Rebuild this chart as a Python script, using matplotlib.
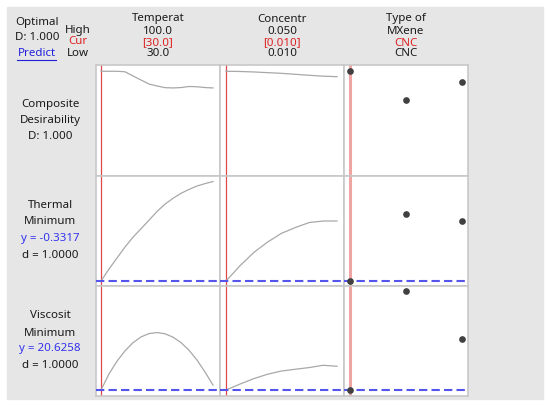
import numpy as np
import matplotlib.pyplot as plt
from matplotlib.patches import Rectangle
from matplotlib.lines import Line2D

plt.rcParams['font.family'] = ['Noto Sans', 'DejaVu Sans']

# Factor settings
temp = [30, 35, 40, 45, 50, 55, 60, 65, 70, 75, 80, 85, 90, 95, 100]
conc = [0.010, 0.015, 0.020, 0.025, 0.030, 0.035, 0.040, 0.045, 0.050]
mxene_types = ['CNC', 'Type 2', 'Type 3']

# Composite desirability
d_temp = [1.0, 1.0, 1.0, 0.995, 0.952, 0.911, 0.870, 0.850, 0.833, 0.830, 0.834, 0.845, 0.842, 0.834, 0.830]
d_conc = [1.0, 0.998, 0.993, 0.986, 0.979, 0.969, 0.959, 0.950, 0.945]
d_type = [1.0, 0.704, 0.888]

# Thermal (minimize)
th_temp = [-0.3317, -0.092, 0.128, 0.348, 0.544, 0.714, 0.884, 1.058,
           1.206, 1.322, 1.422, 1.500, 1.568, 1.616, 1.658]
th_conc = [-0.3317, -0.03, 0.238, 0.448, 0.622, 0.738, 0.838, 0.868, 0.868]
th_type = [-0.3317, 1.008, 0.868]

# Viscosity (minimize)
vi_temp = [20.6258, 28.78, 35.18, 40.43, 44.53, 47.43, 49.13, 49.63,
           49.03, 47.33, 44.58, 40.70, 35.78, 29.75, 23.13]
vi_conc = [20.6258, 23.63, 26.38, 28.63, 30.23, 31.13, 31.98, 33.13, 32.63]
vi_type = [20.6258, 70.63, 46.63]

W, H = 550, 408
fig = plt.figure(figsize=(5.5, 4.08), dpi=100)

def rect(x0, y0, x1, y1):
    return [x0 / W, 1 - y1 / H, (x1 - x0) / W, (y1 - y0) / H]

def txt(x, y, s, color='#1a1a1a', **kw):
    fig.text(x / W, 1 - y / H, s, ha='center', va='center', fontsize=8.3, color=color, **kw)

# gray panel background
fig.patches.append(Rectangle((7 / W, 1 - 399 / H), 536 / W, 392 / H,
                             transform=fig.transFigure, color='#e6e6e6', zorder=-10))

cols = [96, 220, 344, 468]
rows = [65, 176, 286, 396]
xlims = [(26.875, 104.375), (0.00784, 0.05252), (-0.107, 2.107)]
ylims = [(-0.068, 1.064), (-0.4317, 1.7683), (17.63, 73.13)]

red = '#e04848'
blue = '#5555ee'
curve = '#a8a8a8'
dot = '#404040'

series = [
    [(temp, d_temp), (conc, d_conc), d_type],
    [(temp, th_temp), (conc, th_conc), th_type],
    [(temp, vi_temp), (conc, vi_conc), vi_type],
]
optimum = [30, 0.010, 0]
targets = [None, -0.3317, 20.6258]

for r in range(3):
    for c in range(3):
        ax = fig.add_axes(rect(cols[c], rows[r], cols[c + 1], rows[r + 1]))
        ax.set_zorder(1)
        ax.set_xlim(*xlims[c])
        ax.set_ylim(*ylims[r])
        ax.set_xticks([])
        ax.set_yticks([])
        for sp in ax.spines.values():
            sp.set_color('#c8c8c8')
            sp.set_linewidth(1.2)
        if targets[r] is not None:
            ax.axhline(targets[r], color=blue, lw=1.5, dashes=(4, 2), zorder=3)
        if c < 2:
            xs, ys = series[r][c]
            ax.plot(xs, ys, color=curve, lw=0.9, zorder=2)
            ax.axvline(optimum[c], color=red, lw=0.9, zorder=1)
        else:
            ax.axvline(optimum[c], color='#f0a4a4', lw=2.2, zorder=1)
            ax.plot(range(len(mxene_types)), series[r][c], 'o', color=dot, ms=3.8,
                    zorder=4, clip_on=False)

# header text
txt(37, 22, 'Optimal')
txt(37, 37, 'D: 1.000')
txt(37, 53, 'Predict', color='#2020dd')
fig.lines.append(Line2D([17 / W, 56 / W], [1 - 60 / H, 1 - 60 / H],
                        transform=fig.transFigure, color='#2020dd', lw=0.8))
txt(78, 30, 'High')
txt(78, 42, 'Cur', color='#dd2222')
txt(78, 54, 'Low')

headers = [('Temperat', '100.0', '[30.0]', '30.0'),
           ('Concentr', '0.050', '[0.010]', '0.010'),
           ('Type of', 'MXene', 'CNC', 'CNC')]
for c, (name, hi, cur, lo) in enumerate(headers):
    cx = (cols[c] + cols[c + 1]) / 2
    txt(cx, 19, name)
    txt(cx, 32, hi)
    txt(cx, 43, cur, color='#dd2222')
    txt(cx, 54, lo)

# row labels
txt(50, 104, 'Composite')
txt(50, 121, 'Desirability')
txt(50, 137, 'D: 1.000')
txt(50, 206, 'Thermal')
txt(50, 222, 'Minimum')
txt(50, 239, 'y = -0.3317', color='#3333ee')
txt(50, 256, 'd = 1.0000')
txt(50, 316, 'Viscosit')
txt(50, 333, 'Minimum')
txt(50, 349, 'y = 20.6258', color='#3333ee')
txt(50, 365, 'd = 1.0000')

fig.savefig('out.png', dpi=100)
